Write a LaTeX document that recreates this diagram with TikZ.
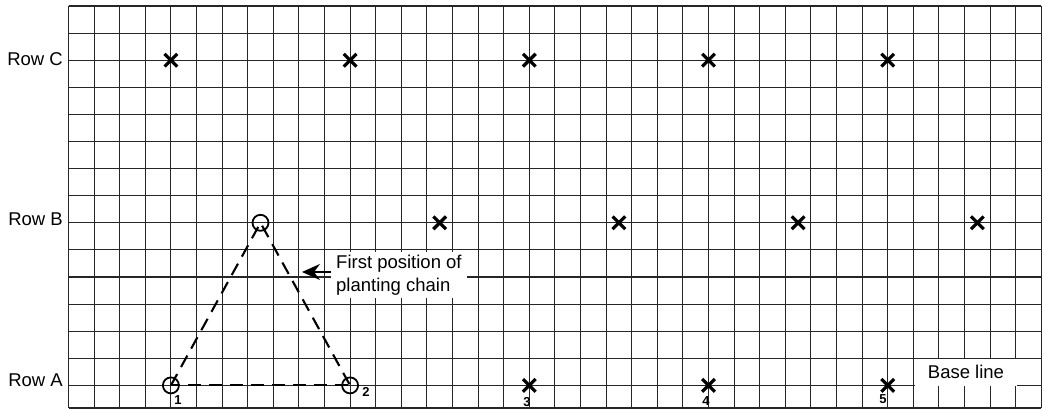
\documentclass[tikz,border=0pt]{standalone}
\usepackage{fontspec}
\setmainfont{Liberation Sans}
\usetikzlibrary{shapes.misc,arrows.meta}
\begin{document}
\begin{tikzpicture}[x=1pt,y=-1pt,
  gridline/.style={line width=1.1pt, draw=black!85},
  crossmark/.style={cross out, draw, line width=3.2pt, minimum size=9.5pt, inner sep=0pt},
  ring/.style={circle, draw, line width=1.8pt, minimum size=16pt, inner sep=0pt},
  chainline/.style={dash pattern=on 13pt off 8pt, line width=2.1pt},
  lbl/.style={font=\fontsize{18.5}{23}\selectfont, inner sep=0pt},
  num/.style={font=\fontsize{13}{14}\selectfont\bfseries, inner sep=0pt}]
\useasboundingbox (0,0) rectangle (1043,409);
\def\gxo{68.5}\def\gdx{25.6}\def\gyo{6}\def\gdy{27.1}
% grid
\foreach \i in {0,...,38} \draw[gridline] ({\gxo+\i*\gdx},\gyo) -- ({\gxo+\i*\gdx},408);
\foreach \j in {0,...,14} \draw[gridline] (\gxo,{\gyo+\j*\gdy}) -- ({\gxo+38*\gdx},{\gyo+\j*\gdy});
\draw[gridline] (\gxo,408) -- ({\gxo+38*\gdx},408);
% row labels
\node[lbl, anchor=east] (rowC) at (63,59) {Row C};
\node[lbl, anchor=east] (rowB) at (63,219.5) {Row B};
\node[lbl, anchor=east] (rowA) at (63,380.5) {Row A};
% row C
\foreach \c [count=\k] in {4,11,18,25,32}
  \node[crossmark] (c\k) at ({\gxo+\c*\gdx},{\gyo+2*\gdy}) {};
% row B
\node[ring] (b1) at ({\gxo+7.5*\gdx},{\gyo+8*\gdy}) {};
\foreach \c [count=\k] in {14.5,21.5,28.5,35.5}
  \node[crossmark] (bx\k) at ({\gxo+\c*\gdx},{\gyo+8*\gdy}) {};
% row A
\node[ring] (a1) at ({\gxo+4*\gdx},{\gyo+14*\gdy}) {};
\node[ring] (a2) at ({\gxo+11*\gdx},{\gyo+14*\gdy}) {};
\node[crossmark] (a3) at ({\gxo+18*\gdx},{\gyo+14*\gdy}) {};
\node[crossmark] (a4) at ({\gxo+25*\gdx},{\gyo+14*\gdy}) {};
\node[crossmark] (a5) at ({\gxo+32*\gdx},{\gyo+14*\gdy}) {};
% numbers
\node[num] (n1) at (178,400) {1};
\node[num] (n2) at (366,392) {2};
\node[num] (n3) at (527,402) {3};
\node[num] (n4) at (706,401) {4};
\node[num] (n5) at (883,399) {5};
% chain triangle
\draw[chainline] (a1.center) -- (b1.center) -- (a2.center);
\draw[chainline, dash phase=4pt] (a1.center) -- (a2.center);
% note
\node[lbl, fill=white, align=left, anchor=west, inner xsep=5pt, inner ysep=3pt] (note) at (331,275) {First position of\\planting chain};
\coordinate (tip) at (302,272);
\draw[line width=1.8pt, -{Stealth[length=18pt 0,width=16pt 0,inset=6pt]}] ([yshift=3pt]note.west) -- (tip);
% base line
\node[lbl, fill=white, minimum width=102pt, minimum height=27pt] (base) at (966,372) {Base line};
\end{tikzpicture}
\end{document}
